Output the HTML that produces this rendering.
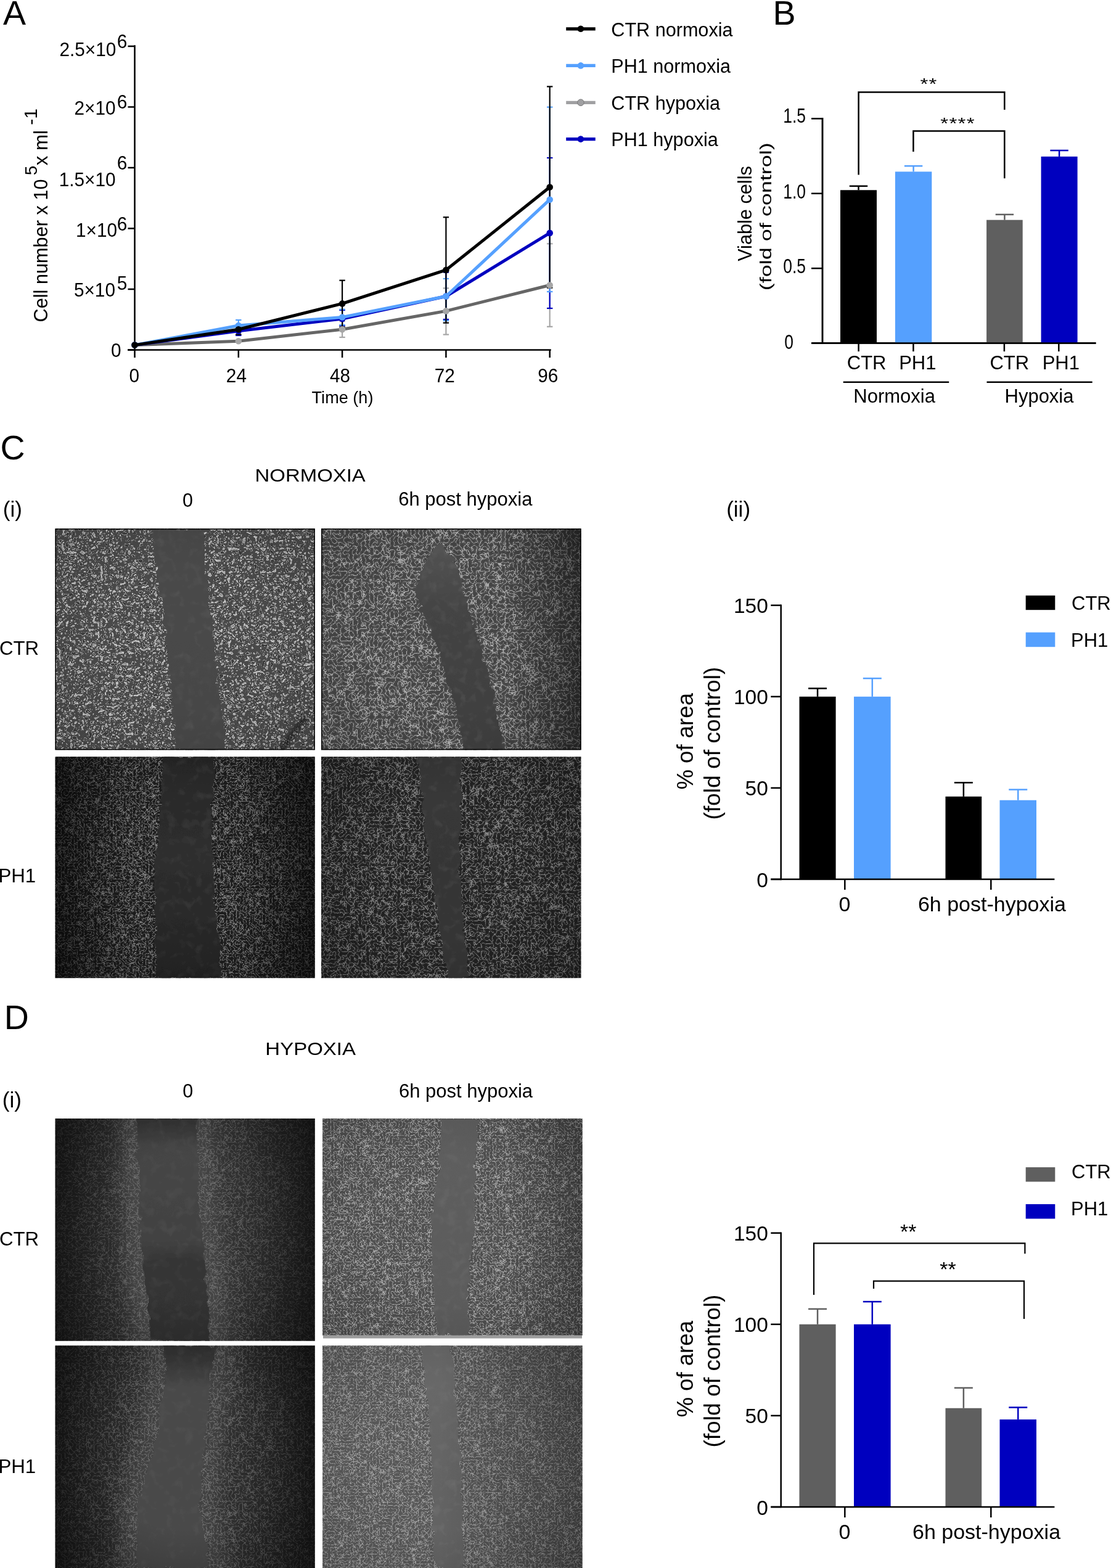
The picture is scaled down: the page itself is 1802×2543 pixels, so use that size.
<!DOCTYPE html>
<html><head><meta charset="utf-8"><title>Figure</title>
<style>
html,body{margin:0;padding:0;background:#fff;}
body{width:1802px;height:2543px;overflow:hidden;}
svg{display:block;}
svg text{font-family:'Liberation Sans', Arial, sans-serif;fill:#000;}
</style></head><body>
<svg width="1802" height="2543" viewBox="0 0 1802 2543">
<defs>
<clipPath id="clip0"><rect x="89.5" y="857.3" width="421.3" height="359.0"/></clipPath>
<filter id="tex0" x="89.5" y="857.3" width="421.3" height="359.0" filterUnits="userSpaceOnUse" color-interpolation-filters="sRGB"><feTurbulence type="fractalNoise" baseFrequency="0.16" numOctaves="2" seed="11"/><feColorMatrix type="matrix" values="1 0 0 0 0  1 0 0 0 0  1 0 0 0 0  0 0 0 0 1"/><feComponentTransfer><feFuncR type="table" tableValues="0.5704 0.5704 0.5704 0.5704 0.5704 0.5704 0.5704 0.5704 0.5704 0.5704 0.5704 0.7509 0.8025 0.8025 0.4414 0.4414 0.2867 0.2867 0.2867 0.2867 0.2867 0.2867 0.2867 0.2867 0.4156 0.7251 0.7251 0.3898 0.2351 0.2351 0.2351 0.2351 0.2351 0.2351 0.2351 0.2351 0.2351 0.2351 0.2351 0.2351 0.2351"/><feFuncG type="table" tableValues="0.5704 0.5704 0.5704 0.5704 0.5704 0.5704 0.5704 0.5704 0.5704 0.5704 0.5704 0.7509 0.8025 0.8025 0.4414 0.4414 0.2867 0.2867 0.2867 0.2867 0.2867 0.2867 0.2867 0.2867 0.4156 0.7251 0.7251 0.3898 0.2351 0.2351 0.2351 0.2351 0.2351 0.2351 0.2351 0.2351 0.2351 0.2351 0.2351 0.2351 0.2351"/><feFuncB type="table" tableValues="0.5704 0.5704 0.5704 0.5704 0.5704 0.5704 0.5704 0.5704 0.5704 0.5704 0.5704 0.7509 0.8025 0.8025 0.4414 0.4414 0.2867 0.2867 0.2867 0.2867 0.2867 0.2867 0.2867 0.2867 0.4156 0.7251 0.7251 0.3898 0.2351 0.2351 0.2351 0.2351 0.2351 0.2351 0.2351 0.2351 0.2351 0.2351 0.2351 0.2351 0.2351"/></feComponentTransfer><feGaussianBlur stdDeviation="0.5"/></filter>
<filter id="gapn0" x="89.5" y="857.3" width="421.3" height="359.0" filterUnits="userSpaceOnUse" color-interpolation-filters="sRGB"><feTurbulence type="fractalNoise" baseFrequency="0.07" numOctaves="2" seed="61" result="n"/><feColorMatrix in="n" type="matrix" values="0 0 0 0 1  0 0 0 0 1  0 0 0 0 1  0.1569 0 0 0 -0.0784" result="c"/><feComposite in="c" in2="SourceGraphic" operator="in"/></filter>
<filter id="edge0" x="59.5" y="827.3" width="481.3" height="419.0" filterUnits="userSpaceOnUse"><feTurbulence type="fractalNoise" baseFrequency="0.06" numOctaves="3" seed="91" result="t"/><feDisplacementMap in="SourceGraphic" in2="t" scale="12" xChannelSelector="R" yChannelSelector="G"/></filter>
<linearGradient id="gapg0" x1="0" y1="857.3" x2="0" y2="1216.3" gradientUnits="userSpaceOnUse"><stop offset="0" stop-color="rgb(74,74,74)"/><stop offset="1" stop-color="rgb(70,70,70)"/></linearGradient>
<radialGradient id="vig0" cx="0.5" cy="0.5" r="0.72"><stop offset="0.45" stop-color="#000" stop-opacity="0"/><stop offset="1" stop-color="#000" stop-opacity="0.12"/></radialGradient>
<linearGradient id="hv0" x1="0" y1="0" x2="1" y2="0"><stop offset="0" stop-color="#000" stop-opacity="0.0"/><stop offset="0.3" stop-color="#000" stop-opacity="0"/><stop offset="0.7" stop-color="#000" stop-opacity="0"/><stop offset="1" stop-color="#000" stop-opacity="0.0"/></linearGradient>
<clipPath id="clip1"><rect x="521" y="857.3" width="421.5" height="359.0"/></clipPath>
<filter id="tex1" x="521" y="857.3" width="421.5" height="359.0" filterUnits="userSpaceOnUse" color-interpolation-filters="sRGB"><feTurbulence type="turbulence" baseFrequency="0.15" numOctaves="1" seed="12"/><feColorMatrix type="matrix" values="1 0 0 0 0  1 0 0 0 0  1 0 0 0 0  0 0 0 0 1"/><feComponentTransfer><feFuncR type="table" tableValues="0.6856 0.6856 0.6856 0.5354 0.5354 0.5354 0.3852 0.3852 0.3852 0.3101 0.3101 0.3101 0.3101 0.3101 0.3101 0.3101 0.3101 0.3101 0.3101 0.3101 0.3101 0.3101 0.3101 0.3101 0.3101 0.3101 0.3101 0.3101 0.3101 0.3101 0.2726 0.2726 0.2726 0.2726 0.2726 0.2726 0.2726 0.2726 0.2726 0.2726 0.2726 0.2726 0.2726 0.2726 0.2726 0.2726 0.2726 0.2726 0.2726 0.2726 0.2726 0.2726 0.2726 0.2726 0.2726 0.2726 0.2726 0.2726 0.2726 0.2726 0.2726 0.2726 0.2726 0.2726 0.2726 0.2726 0.2726 0.2726 0.2726 0.2726 0.2726 0.2726 0.2726 0.2726 0.2726 0.2726 0.2726 0.2726 0.2726 0.2726 0.2726 0.2726 0.2726 0.2726 0.2726 0.2726 0.2726 0.2726 0.2726 0.2726 0.2726 0.2726 0.2726 0.2726 0.2726 0.2726 0.2726 0.2726 0.2726 0.2726 0.2726"/><feFuncG type="table" tableValues="0.6856 0.6856 0.6856 0.5354 0.5354 0.5354 0.3852 0.3852 0.3852 0.3101 0.3101 0.3101 0.3101 0.3101 0.3101 0.3101 0.3101 0.3101 0.3101 0.3101 0.3101 0.3101 0.3101 0.3101 0.3101 0.3101 0.3101 0.3101 0.3101 0.3101 0.2726 0.2726 0.2726 0.2726 0.2726 0.2726 0.2726 0.2726 0.2726 0.2726 0.2726 0.2726 0.2726 0.2726 0.2726 0.2726 0.2726 0.2726 0.2726 0.2726 0.2726 0.2726 0.2726 0.2726 0.2726 0.2726 0.2726 0.2726 0.2726 0.2726 0.2726 0.2726 0.2726 0.2726 0.2726 0.2726 0.2726 0.2726 0.2726 0.2726 0.2726 0.2726 0.2726 0.2726 0.2726 0.2726 0.2726 0.2726 0.2726 0.2726 0.2726 0.2726 0.2726 0.2726 0.2726 0.2726 0.2726 0.2726 0.2726 0.2726 0.2726 0.2726 0.2726 0.2726 0.2726 0.2726 0.2726 0.2726 0.2726 0.2726 0.2726"/><feFuncB type="table" tableValues="0.6856 0.6856 0.6856 0.5354 0.5354 0.5354 0.3852 0.3852 0.3852 0.3101 0.3101 0.3101 0.3101 0.3101 0.3101 0.3101 0.3101 0.3101 0.3101 0.3101 0.3101 0.3101 0.3101 0.3101 0.3101 0.3101 0.3101 0.3101 0.3101 0.3101 0.2726 0.2726 0.2726 0.2726 0.2726 0.2726 0.2726 0.2726 0.2726 0.2726 0.2726 0.2726 0.2726 0.2726 0.2726 0.2726 0.2726 0.2726 0.2726 0.2726 0.2726 0.2726 0.2726 0.2726 0.2726 0.2726 0.2726 0.2726 0.2726 0.2726 0.2726 0.2726 0.2726 0.2726 0.2726 0.2726 0.2726 0.2726 0.2726 0.2726 0.2726 0.2726 0.2726 0.2726 0.2726 0.2726 0.2726 0.2726 0.2726 0.2726 0.2726 0.2726 0.2726 0.2726 0.2726 0.2726 0.2726 0.2726 0.2726 0.2726 0.2726 0.2726 0.2726 0.2726 0.2726 0.2726 0.2726 0.2726 0.2726 0.2726 0.2726"/></feComponentTransfer><feGaussianBlur stdDeviation="0.5"/></filter>
<filter id="gapn1" x="521" y="857.3" width="421.5" height="359.0" filterUnits="userSpaceOnUse" color-interpolation-filters="sRGB"><feTurbulence type="fractalNoise" baseFrequency="0.07" numOctaves="2" seed="62" result="n"/><feColorMatrix in="n" type="matrix" values="0 0 0 0 1  0 0 0 0 1  0 0 0 0 1  0.1882 0 0 0 -0.0941" result="c"/><feComposite in="c" in2="SourceGraphic" operator="in"/></filter>
<filter id="edge1" x="491" y="827.3" width="481.5" height="419.0" filterUnits="userSpaceOnUse"><feTurbulence type="fractalNoise" baseFrequency="0.06" numOctaves="3" seed="92" result="t"/><feDisplacementMap in="SourceGraphic" in2="t" scale="12" xChannelSelector="R" yChannelSelector="G"/></filter>
<linearGradient id="gapg1" x1="0" y1="857.3" x2="0" y2="1216.3" gradientUnits="userSpaceOnUse"><stop offset="0" stop-color="rgb(90,90,90)"/><stop offset="0.15" stop-color="rgb(80,80,80)"/><stop offset="0.35" stop-color="rgb(68,68,68)"/><stop offset="1" stop-color="rgb(63,63,63)"/></linearGradient>
<radialGradient id="vig1" cx="0.5" cy="0.5" r="0.72"><stop offset="0.45" stop-color="#000" stop-opacity="0"/><stop offset="1" stop-color="#000" stop-opacity="0.15"/></radialGradient>
<linearGradient id="hv1" x1="0" y1="0" x2="1" y2="0"><stop offset="0" stop-color="#000" stop-opacity="0.0"/><stop offset="0.3" stop-color="#000" stop-opacity="0"/><stop offset="0.7" stop-color="#000" stop-opacity="0"/><stop offset="1" stop-color="#000" stop-opacity="0.45"/></linearGradient>
<clipPath id="clip2"><rect x="89.5" y="1227.2" width="421.3" height="359.0"/></clipPath>
<filter id="tex2" x="89.5" y="1227.2" width="421.3" height="359.0" filterUnits="userSpaceOnUse" color-interpolation-filters="sRGB"><feTurbulence type="turbulence" baseFrequency="0.19" numOctaves="1" seed="13"/><feColorMatrix type="matrix" values="1 0 0 0 0  1 0 0 0 0  1 0 0 0 0  0 0 0 0 1"/><feComponentTransfer><feFuncR type="table" tableValues="0.5195 0.5195 0.5195 0.3716 0.3716 0.3716 0.2238 0.2238 0.2238 0.1498 0.1498 0.1498 0.1498 0.1498 0.1498 0.1498 0.1498 0.1498 0.1498 0.1498 0.1498 0.1498 0.1498 0.1498 0.1498 0.1498 0.1498 0.1498 0.1498 0.1498 0.1128 0.1128 0.1128 0.1128 0.1128 0.1128 0.1128 0.1128 0.1128 0.1128 0.1128 0.1128 0.1128 0.1128 0.1128 0.1128 0.1128 0.1128 0.1128 0.1128 0.1128 0.1128 0.1128 0.1128 0.1128 0.1128 0.1128 0.1128 0.1128 0.1128 0.1128 0.1128 0.1128 0.1128 0.1128 0.1128 0.1128 0.1128 0.1128 0.1128 0.1128 0.1128 0.1128 0.1128 0.1128 0.1128 0.1128 0.1128 0.1128 0.1128 0.1128 0.1128 0.1128 0.1128 0.1128 0.1128 0.1128 0.1128 0.1128 0.1128 0.1128 0.1128 0.1128 0.1128 0.1128 0.1128 0.1128 0.1128 0.1128 0.1128 0.1128"/><feFuncG type="table" tableValues="0.5195 0.5195 0.5195 0.3716 0.3716 0.3716 0.2238 0.2238 0.2238 0.1498 0.1498 0.1498 0.1498 0.1498 0.1498 0.1498 0.1498 0.1498 0.1498 0.1498 0.1498 0.1498 0.1498 0.1498 0.1498 0.1498 0.1498 0.1498 0.1498 0.1498 0.1128 0.1128 0.1128 0.1128 0.1128 0.1128 0.1128 0.1128 0.1128 0.1128 0.1128 0.1128 0.1128 0.1128 0.1128 0.1128 0.1128 0.1128 0.1128 0.1128 0.1128 0.1128 0.1128 0.1128 0.1128 0.1128 0.1128 0.1128 0.1128 0.1128 0.1128 0.1128 0.1128 0.1128 0.1128 0.1128 0.1128 0.1128 0.1128 0.1128 0.1128 0.1128 0.1128 0.1128 0.1128 0.1128 0.1128 0.1128 0.1128 0.1128 0.1128 0.1128 0.1128 0.1128 0.1128 0.1128 0.1128 0.1128 0.1128 0.1128 0.1128 0.1128 0.1128 0.1128 0.1128 0.1128 0.1128 0.1128 0.1128 0.1128 0.1128"/><feFuncB type="table" tableValues="0.5195 0.5195 0.5195 0.3716 0.3716 0.3716 0.2238 0.2238 0.2238 0.1498 0.1498 0.1498 0.1498 0.1498 0.1498 0.1498 0.1498 0.1498 0.1498 0.1498 0.1498 0.1498 0.1498 0.1498 0.1498 0.1498 0.1498 0.1498 0.1498 0.1498 0.1128 0.1128 0.1128 0.1128 0.1128 0.1128 0.1128 0.1128 0.1128 0.1128 0.1128 0.1128 0.1128 0.1128 0.1128 0.1128 0.1128 0.1128 0.1128 0.1128 0.1128 0.1128 0.1128 0.1128 0.1128 0.1128 0.1128 0.1128 0.1128 0.1128 0.1128 0.1128 0.1128 0.1128 0.1128 0.1128 0.1128 0.1128 0.1128 0.1128 0.1128 0.1128 0.1128 0.1128 0.1128 0.1128 0.1128 0.1128 0.1128 0.1128 0.1128 0.1128 0.1128 0.1128 0.1128 0.1128 0.1128 0.1128 0.1128 0.1128 0.1128 0.1128 0.1128 0.1128 0.1128 0.1128 0.1128 0.1128 0.1128 0.1128 0.1128"/></feComponentTransfer><feGaussianBlur stdDeviation="0.4"/></filter>
<filter id="gapn2" x="89.5" y="1227.2" width="421.3" height="359.0" filterUnits="userSpaceOnUse" color-interpolation-filters="sRGB"><feTurbulence type="fractalNoise" baseFrequency="0.07" numOctaves="2" seed="63" result="n"/><feColorMatrix in="n" type="matrix" values="0 0 0 0 1  0 0 0 0 1  0 0 0 0 1  0.1569 0 0 0 -0.0784" result="c"/><feComposite in="c" in2="SourceGraphic" operator="in"/></filter>
<filter id="edge2" x="59.5" y="1197.2" width="481.3" height="419.0" filterUnits="userSpaceOnUse"><feTurbulence type="fractalNoise" baseFrequency="0.06" numOctaves="3" seed="93" result="t"/><feDisplacementMap in="SourceGraphic" in2="t" scale="12" xChannelSelector="R" yChannelSelector="G"/></filter>
<linearGradient id="gapg2" x1="0" y1="1227.2" x2="0" y2="1586.2" gradientUnits="userSpaceOnUse"><stop offset="0" stop-color="rgb(40,40,40)"/><stop offset="0.45" stop-color="rgb(46,46,46)"/><stop offset="1" stop-color="rgb(36,36,36)"/></linearGradient>
<radialGradient id="vig2" cx="0.5" cy="0.5" r="0.72"><stop offset="0.45" stop-color="#000" stop-opacity="0"/><stop offset="1" stop-color="#000" stop-opacity="0.25"/></radialGradient>
<linearGradient id="hv2" x1="0" y1="0" x2="1" y2="0"><stop offset="0" stop-color="#000" stop-opacity="0.55"/><stop offset="0.3" stop-color="#000" stop-opacity="0"/><stop offset="0.7" stop-color="#000" stop-opacity="0"/><stop offset="1" stop-color="#000" stop-opacity="0.55"/></linearGradient>
<clipPath id="clip3"><rect x="521" y="1227.2" width="421.5" height="359.0"/></clipPath>
<filter id="tex3" x="521" y="1227.2" width="421.5" height="359.0" filterUnits="userSpaceOnUse" color-interpolation-filters="sRGB"><feTurbulence type="turbulence" baseFrequency="0.16" numOctaves="1" seed="14"/><feColorMatrix type="matrix" values="1 0 0 0 0  1 0 0 0 0  1 0 0 0 0  0 0 0 0 1"/><feComponentTransfer><feFuncR type="table" tableValues="0.5233 0.5233 0.5233 0.3828 0.3828 0.3828 0.2423 0.2423 0.2423 0.1721 0.1721 0.1721 0.1721 0.1721 0.1721 0.1721 0.1721 0.1721 0.1721 0.1721 0.1721 0.1721 0.1721 0.1721 0.1721 0.1721 0.1721 0.1721 0.1721 0.1721 0.1369 0.1369 0.1369 0.1369 0.1369 0.1369 0.1369 0.1369 0.1369 0.1369 0.1369 0.1369 0.1369 0.1369 0.1369 0.1369 0.1369 0.1369 0.1369 0.1369 0.1369 0.1369 0.1369 0.1369 0.1369 0.1369 0.1369 0.1369 0.1369 0.1369 0.1369 0.1369 0.1369 0.1369 0.1369 0.1369 0.1369 0.1369 0.1369 0.1369 0.1369 0.1369 0.1369 0.1369 0.1369 0.1369 0.1369 0.1369 0.1369 0.1369 0.1369 0.1369 0.1369 0.1369 0.1369 0.1369 0.1369 0.1369 0.1369 0.1369 0.1369 0.1369 0.1369 0.1369 0.1369 0.1369 0.1369 0.1369 0.1369 0.1369 0.1369"/><feFuncG type="table" tableValues="0.5233 0.5233 0.5233 0.3828 0.3828 0.3828 0.2423 0.2423 0.2423 0.1721 0.1721 0.1721 0.1721 0.1721 0.1721 0.1721 0.1721 0.1721 0.1721 0.1721 0.1721 0.1721 0.1721 0.1721 0.1721 0.1721 0.1721 0.1721 0.1721 0.1721 0.1369 0.1369 0.1369 0.1369 0.1369 0.1369 0.1369 0.1369 0.1369 0.1369 0.1369 0.1369 0.1369 0.1369 0.1369 0.1369 0.1369 0.1369 0.1369 0.1369 0.1369 0.1369 0.1369 0.1369 0.1369 0.1369 0.1369 0.1369 0.1369 0.1369 0.1369 0.1369 0.1369 0.1369 0.1369 0.1369 0.1369 0.1369 0.1369 0.1369 0.1369 0.1369 0.1369 0.1369 0.1369 0.1369 0.1369 0.1369 0.1369 0.1369 0.1369 0.1369 0.1369 0.1369 0.1369 0.1369 0.1369 0.1369 0.1369 0.1369 0.1369 0.1369 0.1369 0.1369 0.1369 0.1369 0.1369 0.1369 0.1369 0.1369 0.1369"/><feFuncB type="table" tableValues="0.5233 0.5233 0.5233 0.3828 0.3828 0.3828 0.2423 0.2423 0.2423 0.1721 0.1721 0.1721 0.1721 0.1721 0.1721 0.1721 0.1721 0.1721 0.1721 0.1721 0.1721 0.1721 0.1721 0.1721 0.1721 0.1721 0.1721 0.1721 0.1721 0.1721 0.1369 0.1369 0.1369 0.1369 0.1369 0.1369 0.1369 0.1369 0.1369 0.1369 0.1369 0.1369 0.1369 0.1369 0.1369 0.1369 0.1369 0.1369 0.1369 0.1369 0.1369 0.1369 0.1369 0.1369 0.1369 0.1369 0.1369 0.1369 0.1369 0.1369 0.1369 0.1369 0.1369 0.1369 0.1369 0.1369 0.1369 0.1369 0.1369 0.1369 0.1369 0.1369 0.1369 0.1369 0.1369 0.1369 0.1369 0.1369 0.1369 0.1369 0.1369 0.1369 0.1369 0.1369 0.1369 0.1369 0.1369 0.1369 0.1369 0.1369 0.1369 0.1369 0.1369 0.1369 0.1369 0.1369 0.1369 0.1369 0.1369 0.1369 0.1369"/></feComponentTransfer><feGaussianBlur stdDeviation="0.4"/></filter>
<filter id="gapn3" x="521" y="1227.2" width="421.5" height="359.0" filterUnits="userSpaceOnUse" color-interpolation-filters="sRGB"><feTurbulence type="fractalNoise" baseFrequency="0.07" numOctaves="2" seed="64" result="n"/><feColorMatrix in="n" type="matrix" values="0 0 0 0 1  0 0 0 0 1  0 0 0 0 1  0.1882 0 0 0 -0.0941" result="c"/><feComposite in="c" in2="SourceGraphic" operator="in"/></filter>
<filter id="edge3" x="491" y="1197.2" width="481.5" height="419.0" filterUnits="userSpaceOnUse"><feTurbulence type="fractalNoise" baseFrequency="0.06" numOctaves="3" seed="94" result="t"/><feDisplacementMap in="SourceGraphic" in2="t" scale="12" xChannelSelector="R" yChannelSelector="G"/></filter>
<linearGradient id="gapg3" x1="0" y1="1227.2" x2="0" y2="1586.2" gradientUnits="userSpaceOnUse"><stop offset="0" stop-color="rgb(56,56,56)"/><stop offset="1" stop-color="rgb(52,52,52)"/></linearGradient>
<radialGradient id="vig3" cx="0.5" cy="0.5" r="0.72"><stop offset="0.45" stop-color="#000" stop-opacity="0"/><stop offset="1" stop-color="#000" stop-opacity="0.2"/></radialGradient>
<linearGradient id="hv3" x1="0" y1="0" x2="1" y2="0"><stop offset="0" stop-color="#000" stop-opacity="0.1"/><stop offset="0.3" stop-color="#000" stop-opacity="0"/><stop offset="0.7" stop-color="#000" stop-opacity="0"/><stop offset="1" stop-color="#000" stop-opacity="0.1"/></linearGradient>
<clipPath id="clip4"><rect x="89.5" y="1814.1" width="421.3" height="360.6"/></clipPath>
<filter id="tex4" x="89.5" y="1814.1" width="421.3" height="360.6" filterUnits="userSpaceOnUse" color-interpolation-filters="sRGB"><feTurbulence type="turbulence" baseFrequency="0.17" numOctaves="1" seed="15"/><feColorMatrix type="matrix" values="1 0 0 0 0  1 0 0 0 0  1 0 0 0 0  0 0 0 0 1"/><feComponentTransfer><feFuncR type="table" tableValues="0.3752 0.3752 0.3752 0.3090 0.3090 0.3090 0.2428 0.2428 0.2428 0.2096 0.2096 0.2096 0.2096 0.2096 0.2096 0.2096 0.2096 0.2096 0.2096 0.2096 0.2096 0.2096 0.2096 0.2096 0.2096 0.2096 0.2096 0.2096 0.2096 0.2096 0.1931 0.1931 0.1931 0.1931 0.1931 0.1931 0.1931 0.1931 0.1931 0.1931 0.1931 0.1931 0.1931 0.1931 0.1931 0.1931 0.1931 0.1931 0.1931 0.1931 0.1931 0.1931 0.1931 0.1931 0.1931 0.1931 0.1931 0.1931 0.1931 0.1931 0.1931 0.1931 0.1931 0.1931 0.1931 0.1931 0.1931 0.1931 0.1931 0.1931 0.1931 0.1931 0.1931 0.1931 0.1931 0.1931 0.1931 0.1931 0.1931 0.1931 0.1931 0.1931 0.1931 0.1931 0.1931 0.1931 0.1931 0.1931 0.1931 0.1931 0.1931 0.1931 0.1931 0.1931 0.1931 0.1931 0.1931 0.1931 0.1931 0.1931 0.1931"/><feFuncG type="table" tableValues="0.3752 0.3752 0.3752 0.3090 0.3090 0.3090 0.2428 0.2428 0.2428 0.2096 0.2096 0.2096 0.2096 0.2096 0.2096 0.2096 0.2096 0.2096 0.2096 0.2096 0.2096 0.2096 0.2096 0.2096 0.2096 0.2096 0.2096 0.2096 0.2096 0.2096 0.1931 0.1931 0.1931 0.1931 0.1931 0.1931 0.1931 0.1931 0.1931 0.1931 0.1931 0.1931 0.1931 0.1931 0.1931 0.1931 0.1931 0.1931 0.1931 0.1931 0.1931 0.1931 0.1931 0.1931 0.1931 0.1931 0.1931 0.1931 0.1931 0.1931 0.1931 0.1931 0.1931 0.1931 0.1931 0.1931 0.1931 0.1931 0.1931 0.1931 0.1931 0.1931 0.1931 0.1931 0.1931 0.1931 0.1931 0.1931 0.1931 0.1931 0.1931 0.1931 0.1931 0.1931 0.1931 0.1931 0.1931 0.1931 0.1931 0.1931 0.1931 0.1931 0.1931 0.1931 0.1931 0.1931 0.1931 0.1931 0.1931 0.1931 0.1931"/><feFuncB type="table" tableValues="0.3752 0.3752 0.3752 0.3090 0.3090 0.3090 0.2428 0.2428 0.2428 0.2096 0.2096 0.2096 0.2096 0.2096 0.2096 0.2096 0.2096 0.2096 0.2096 0.2096 0.2096 0.2096 0.2096 0.2096 0.2096 0.2096 0.2096 0.2096 0.2096 0.2096 0.1931 0.1931 0.1931 0.1931 0.1931 0.1931 0.1931 0.1931 0.1931 0.1931 0.1931 0.1931 0.1931 0.1931 0.1931 0.1931 0.1931 0.1931 0.1931 0.1931 0.1931 0.1931 0.1931 0.1931 0.1931 0.1931 0.1931 0.1931 0.1931 0.1931 0.1931 0.1931 0.1931 0.1931 0.1931 0.1931 0.1931 0.1931 0.1931 0.1931 0.1931 0.1931 0.1931 0.1931 0.1931 0.1931 0.1931 0.1931 0.1931 0.1931 0.1931 0.1931 0.1931 0.1931 0.1931 0.1931 0.1931 0.1931 0.1931 0.1931 0.1931 0.1931 0.1931 0.1931 0.1931 0.1931 0.1931 0.1931 0.1931 0.1931 0.1931"/></feComponentTransfer><feGaussianBlur stdDeviation="0.4"/></filter>
<filter id="gapn4" x="89.5" y="1814.1" width="421.3" height="360.6" filterUnits="userSpaceOnUse" color-interpolation-filters="sRGB"><feTurbulence type="fractalNoise" baseFrequency="0.07" numOctaves="2" seed="65" result="n"/><feColorMatrix in="n" type="matrix" values="0 0 0 0 1  0 0 0 0 1  0 0 0 0 1  0.1255 0 0 0 -0.0627" result="c"/><feComposite in="c" in2="SourceGraphic" operator="in"/></filter>
<filter id="edge4" x="59.5" y="1784.1" width="481.3" height="420.6" filterUnits="userSpaceOnUse"><feTurbulence type="fractalNoise" baseFrequency="0.06" numOctaves="3" seed="95" result="t"/><feDisplacementMap in="SourceGraphic" in2="t" scale="12" xChannelSelector="R" yChannelSelector="G"/></filter>
<linearGradient id="gapg4" x1="0" y1="1814.1" x2="0" y2="2174.7" gradientUnits="userSpaceOnUse"><stop offset="0" stop-color="rgb(54,54,54)"/><stop offset="0.12" stop-color="rgb(70,70,70)"/><stop offset="0.55" stop-color="rgb(66,66,66)"/><stop offset="0.64" stop-color="rgb(53,53,53)"/><stop offset="1" stop-color="rgb(50,50,50)"/></linearGradient>
<radialGradient id="vig4" cx="0.5" cy="0.5" r="0.72"><stop offset="0.45" stop-color="#000" stop-opacity="0"/><stop offset="1" stop-color="#000" stop-opacity="0.3"/></radialGradient>
<linearGradient id="hv4" x1="0" y1="0" x2="1" y2="0"><stop offset="0" stop-color="#000" stop-opacity="0.55"/><stop offset="0.3" stop-color="#000" stop-opacity="0"/><stop offset="0.7" stop-color="#000" stop-opacity="0"/><stop offset="1" stop-color="#000" stop-opacity="0.55"/></linearGradient>
<clipPath id="clip5"><rect x="523.1" y="1814.1" width="421.6" height="351.7"/></clipPath>
<filter id="tex5" x="523.1" y="1814.1" width="421.6" height="351.7" filterUnits="userSpaceOnUse" color-interpolation-filters="sRGB"><feTurbulence type="turbulence" baseFrequency="0.19" numOctaves="1" seed="16"/><feColorMatrix type="matrix" values="1 0 0 0 0  1 0 0 0 0  1 0 0 0 0  0 0 0 0 1"/><feComponentTransfer><feFuncR type="table" tableValues="0.6793 0.6793 0.6793 0.5453 0.5453 0.5453 0.4112 0.4112 0.4112 0.3442 0.3442 0.3442 0.3442 0.3442 0.3442 0.3442 0.3442 0.3442 0.3442 0.3442 0.3442 0.3442 0.3442 0.3442 0.3442 0.3442 0.3442 0.3442 0.3442 0.3442 0.3107 0.3107 0.3107 0.3107 0.3107 0.3107 0.3107 0.3107 0.3107 0.3107 0.3107 0.3107 0.3107 0.3107 0.3107 0.3107 0.3107 0.3107 0.3107 0.3107 0.3107 0.3107 0.3107 0.3107 0.3107 0.3107 0.3107 0.3107 0.3107 0.3107 0.3107 0.3107 0.3107 0.3107 0.3107 0.3107 0.3107 0.3107 0.3107 0.3107 0.3107 0.3107 0.3107 0.3107 0.3107 0.3107 0.3107 0.3107 0.3107 0.3107 0.3107 0.3107 0.3107 0.3107 0.3107 0.3107 0.3107 0.3107 0.3107 0.3107 0.3107 0.3107 0.3107 0.3107 0.3107 0.3107 0.3107 0.3107 0.3107 0.3107 0.3107"/><feFuncG type="table" tableValues="0.6793 0.6793 0.6793 0.5453 0.5453 0.5453 0.4112 0.4112 0.4112 0.3442 0.3442 0.3442 0.3442 0.3442 0.3442 0.3442 0.3442 0.3442 0.3442 0.3442 0.3442 0.3442 0.3442 0.3442 0.3442 0.3442 0.3442 0.3442 0.3442 0.3442 0.3107 0.3107 0.3107 0.3107 0.3107 0.3107 0.3107 0.3107 0.3107 0.3107 0.3107 0.3107 0.3107 0.3107 0.3107 0.3107 0.3107 0.3107 0.3107 0.3107 0.3107 0.3107 0.3107 0.3107 0.3107 0.3107 0.3107 0.3107 0.3107 0.3107 0.3107 0.3107 0.3107 0.3107 0.3107 0.3107 0.3107 0.3107 0.3107 0.3107 0.3107 0.3107 0.3107 0.3107 0.3107 0.3107 0.3107 0.3107 0.3107 0.3107 0.3107 0.3107 0.3107 0.3107 0.3107 0.3107 0.3107 0.3107 0.3107 0.3107 0.3107 0.3107 0.3107 0.3107 0.3107 0.3107 0.3107 0.3107 0.3107 0.3107 0.3107"/><feFuncB type="table" tableValues="0.6793 0.6793 0.6793 0.5453 0.5453 0.5453 0.4112 0.4112 0.4112 0.3442 0.3442 0.3442 0.3442 0.3442 0.3442 0.3442 0.3442 0.3442 0.3442 0.3442 0.3442 0.3442 0.3442 0.3442 0.3442 0.3442 0.3442 0.3442 0.3442 0.3442 0.3107 0.3107 0.3107 0.3107 0.3107 0.3107 0.3107 0.3107 0.3107 0.3107 0.3107 0.3107 0.3107 0.3107 0.3107 0.3107 0.3107 0.3107 0.3107 0.3107 0.3107 0.3107 0.3107 0.3107 0.3107 0.3107 0.3107 0.3107 0.3107 0.3107 0.3107 0.3107 0.3107 0.3107 0.3107 0.3107 0.3107 0.3107 0.3107 0.3107 0.3107 0.3107 0.3107 0.3107 0.3107 0.3107 0.3107 0.3107 0.3107 0.3107 0.3107 0.3107 0.3107 0.3107 0.3107 0.3107 0.3107 0.3107 0.3107 0.3107 0.3107 0.3107 0.3107 0.3107 0.3107 0.3107 0.3107 0.3107 0.3107 0.3107 0.3107"/></feComponentTransfer><feGaussianBlur stdDeviation="0.4"/></filter>
<filter id="gapn5" x="523.1" y="1814.1" width="421.6" height="351.7" filterUnits="userSpaceOnUse" color-interpolation-filters="sRGB"><feTurbulence type="fractalNoise" baseFrequency="0.07" numOctaves="2" seed="66" result="n"/><feColorMatrix in="n" type="matrix" values="0 0 0 0 1  0 0 0 0 1  0 0 0 0 1  0.1569 0 0 0 -0.0784" result="c"/><feComposite in="c" in2="SourceGraphic" operator="in"/></filter>
<filter id="edge5" x="493.1" y="1784.1" width="481.6" height="411.7" filterUnits="userSpaceOnUse"><feTurbulence type="fractalNoise" baseFrequency="0.06" numOctaves="3" seed="96" result="t"/><feDisplacementMap in="SourceGraphic" in2="t" scale="12" xChannelSelector="R" yChannelSelector="G"/></filter>
<linearGradient id="gapg5" x1="0" y1="1814.1" x2="0" y2="2165.8" gradientUnits="userSpaceOnUse"><stop offset="0" stop-color="rgb(94,94,94)"/><stop offset="1" stop-color="rgb(92,92,92)"/></linearGradient>
<radialGradient id="vig5" cx="0.5" cy="0.5" r="0.72"><stop offset="0.45" stop-color="#000" stop-opacity="0"/><stop offset="1" stop-color="#000" stop-opacity="0.15"/></radialGradient>
<linearGradient id="hv5" x1="0" y1="0" x2="1" y2="0"><stop offset="0" stop-color="#000" stop-opacity="0.0"/><stop offset="0.3" stop-color="#000" stop-opacity="0"/><stop offset="0.7" stop-color="#000" stop-opacity="0"/><stop offset="1" stop-color="#000" stop-opacity="0.25"/></linearGradient>
<clipPath id="clip6"><rect x="89.5" y="2182.2" width="421.3" height="360.8"/></clipPath>
<filter id="tex6" x="89.5" y="2182.2" width="421.3" height="360.8" filterUnits="userSpaceOnUse" color-interpolation-filters="sRGB"><feTurbulence type="turbulence" baseFrequency="0.17" numOctaves="1" seed="17"/><feColorMatrix type="matrix" values="1 0 0 0 0  1 0 0 0 0  1 0 0 0 0  0 0 0 0 1"/><feComponentTransfer><feFuncR type="table" tableValues="0.3837 0.3837 0.3837 0.3093 0.3093 0.3093 0.2350 0.2350 0.2350 0.1979 0.1979 0.1979 0.1979 0.1979 0.1979 0.1979 0.1979 0.1979 0.1979 0.1979 0.1979 0.1979 0.1979 0.1979 0.1979 0.1979 0.1979 0.1979 0.1979 0.1979 0.1793 0.1793 0.1793 0.1793 0.1793 0.1793 0.1793 0.1793 0.1793 0.1793 0.1793 0.1793 0.1793 0.1793 0.1793 0.1793 0.1793 0.1793 0.1793 0.1793 0.1793 0.1793 0.1793 0.1793 0.1793 0.1793 0.1793 0.1793 0.1793 0.1793 0.1793 0.1793 0.1793 0.1793 0.1793 0.1793 0.1793 0.1793 0.1793 0.1793 0.1793 0.1793 0.1793 0.1793 0.1793 0.1793 0.1793 0.1793 0.1793 0.1793 0.1793 0.1793 0.1793 0.1793 0.1793 0.1793 0.1793 0.1793 0.1793 0.1793 0.1793 0.1793 0.1793 0.1793 0.1793 0.1793 0.1793 0.1793 0.1793 0.1793 0.1793"/><feFuncG type="table" tableValues="0.3837 0.3837 0.3837 0.3093 0.3093 0.3093 0.2350 0.2350 0.2350 0.1979 0.1979 0.1979 0.1979 0.1979 0.1979 0.1979 0.1979 0.1979 0.1979 0.1979 0.1979 0.1979 0.1979 0.1979 0.1979 0.1979 0.1979 0.1979 0.1979 0.1979 0.1793 0.1793 0.1793 0.1793 0.1793 0.1793 0.1793 0.1793 0.1793 0.1793 0.1793 0.1793 0.1793 0.1793 0.1793 0.1793 0.1793 0.1793 0.1793 0.1793 0.1793 0.1793 0.1793 0.1793 0.1793 0.1793 0.1793 0.1793 0.1793 0.1793 0.1793 0.1793 0.1793 0.1793 0.1793 0.1793 0.1793 0.1793 0.1793 0.1793 0.1793 0.1793 0.1793 0.1793 0.1793 0.1793 0.1793 0.1793 0.1793 0.1793 0.1793 0.1793 0.1793 0.1793 0.1793 0.1793 0.1793 0.1793 0.1793 0.1793 0.1793 0.1793 0.1793 0.1793 0.1793 0.1793 0.1793 0.1793 0.1793 0.1793 0.1793"/><feFuncB type="table" tableValues="0.3837 0.3837 0.3837 0.3093 0.3093 0.3093 0.2350 0.2350 0.2350 0.1979 0.1979 0.1979 0.1979 0.1979 0.1979 0.1979 0.1979 0.1979 0.1979 0.1979 0.1979 0.1979 0.1979 0.1979 0.1979 0.1979 0.1979 0.1979 0.1979 0.1979 0.1793 0.1793 0.1793 0.1793 0.1793 0.1793 0.1793 0.1793 0.1793 0.1793 0.1793 0.1793 0.1793 0.1793 0.1793 0.1793 0.1793 0.1793 0.1793 0.1793 0.1793 0.1793 0.1793 0.1793 0.1793 0.1793 0.1793 0.1793 0.1793 0.1793 0.1793 0.1793 0.1793 0.1793 0.1793 0.1793 0.1793 0.1793 0.1793 0.1793 0.1793 0.1793 0.1793 0.1793 0.1793 0.1793 0.1793 0.1793 0.1793 0.1793 0.1793 0.1793 0.1793 0.1793 0.1793 0.1793 0.1793 0.1793 0.1793 0.1793 0.1793 0.1793 0.1793 0.1793 0.1793 0.1793 0.1793 0.1793 0.1793 0.1793 0.1793"/></feComponentTransfer><feGaussianBlur stdDeviation="0.4"/></filter>
<filter id="gapn6" x="89.5" y="2182.2" width="421.3" height="360.8" filterUnits="userSpaceOnUse" color-interpolation-filters="sRGB"><feTurbulence type="fractalNoise" baseFrequency="0.07" numOctaves="2" seed="67" result="n"/><feColorMatrix in="n" type="matrix" values="0 0 0 0 1  0 0 0 0 1  0 0 0 0 1  0.1255 0 0 0 -0.0627" result="c"/><feComposite in="c" in2="SourceGraphic" operator="in"/></filter>
<filter id="edge6" x="59.5" y="2152.2" width="481.3" height="420.8" filterUnits="userSpaceOnUse"><feTurbulence type="fractalNoise" baseFrequency="0.06" numOctaves="3" seed="97" result="t"/><feDisplacementMap in="SourceGraphic" in2="t" scale="12" xChannelSelector="R" yChannelSelector="G"/></filter>
<linearGradient id="gapg6" x1="0" y1="2182.2" x2="0" y2="2543" gradientUnits="userSpaceOnUse"><stop offset="0" stop-color="rgb(50,50,50)"/><stop offset="0.08" stop-color="rgb(58,58,58)"/><stop offset="0.2" stop-color="rgb(74,74,74)"/><stop offset="1" stop-color="rgb(72,72,72)"/></linearGradient>
<radialGradient id="vig6" cx="0.5" cy="0.5" r="0.72"><stop offset="0.45" stop-color="#000" stop-opacity="0"/><stop offset="1" stop-color="#000" stop-opacity="0.3"/></radialGradient>
<linearGradient id="hv6" x1="0" y1="0" x2="1" y2="0"><stop offset="0" stop-color="#000" stop-opacity="0.55"/><stop offset="0.3" stop-color="#000" stop-opacity="0"/><stop offset="0.7" stop-color="#000" stop-opacity="0"/><stop offset="1" stop-color="#000" stop-opacity="0.55"/></linearGradient>
<clipPath id="clip7"><rect x="523.1" y="2182.2" width="421.6" height="360.8"/></clipPath>
<filter id="tex7" x="523.1" y="2182.2" width="421.6" height="360.8" filterUnits="userSpaceOnUse" color-interpolation-filters="sRGB"><feTurbulence type="turbulence" baseFrequency="0.19" numOctaves="1" seed="18"/><feColorMatrix type="matrix" values="1 0 0 0 0  1 0 0 0 0  1 0 0 0 0  0 0 0 0 1"/><feComponentTransfer><feFuncR type="table" tableValues="0.6401 0.6401 0.6401 0.5325 0.5325 0.5325 0.4248 0.4248 0.4248 0.3709 0.3709 0.3709 0.3709 0.3709 0.3709 0.3709 0.3709 0.3709 0.3709 0.3709 0.3709 0.3709 0.3709 0.3709 0.3709 0.3709 0.3709 0.3709 0.3709 0.3709 0.3440 0.3440 0.3440 0.3440 0.3440 0.3440 0.3440 0.3440 0.3440 0.3440 0.3440 0.3440 0.3440 0.3440 0.3440 0.3440 0.3440 0.3440 0.3440 0.3440 0.3440 0.3440 0.3440 0.3440 0.3440 0.3440 0.3440 0.3440 0.3440 0.3440 0.3440 0.3440 0.3440 0.3440 0.3440 0.3440 0.3440 0.3440 0.3440 0.3440 0.3440 0.3440 0.3440 0.3440 0.3440 0.3440 0.3440 0.3440 0.3440 0.3440 0.3440 0.3440 0.3440 0.3440 0.3440 0.3440 0.3440 0.3440 0.3440 0.3440 0.3440 0.3440 0.3440 0.3440 0.3440 0.3440 0.3440 0.3440 0.3440 0.3440 0.3440"/><feFuncG type="table" tableValues="0.6401 0.6401 0.6401 0.5325 0.5325 0.5325 0.4248 0.4248 0.4248 0.3709 0.3709 0.3709 0.3709 0.3709 0.3709 0.3709 0.3709 0.3709 0.3709 0.3709 0.3709 0.3709 0.3709 0.3709 0.3709 0.3709 0.3709 0.3709 0.3709 0.3709 0.3440 0.3440 0.3440 0.3440 0.3440 0.3440 0.3440 0.3440 0.3440 0.3440 0.3440 0.3440 0.3440 0.3440 0.3440 0.3440 0.3440 0.3440 0.3440 0.3440 0.3440 0.3440 0.3440 0.3440 0.3440 0.3440 0.3440 0.3440 0.3440 0.3440 0.3440 0.3440 0.3440 0.3440 0.3440 0.3440 0.3440 0.3440 0.3440 0.3440 0.3440 0.3440 0.3440 0.3440 0.3440 0.3440 0.3440 0.3440 0.3440 0.3440 0.3440 0.3440 0.3440 0.3440 0.3440 0.3440 0.3440 0.3440 0.3440 0.3440 0.3440 0.3440 0.3440 0.3440 0.3440 0.3440 0.3440 0.3440 0.3440 0.3440 0.3440"/><feFuncB type="table" tableValues="0.6401 0.6401 0.6401 0.5325 0.5325 0.5325 0.4248 0.4248 0.4248 0.3709 0.3709 0.3709 0.3709 0.3709 0.3709 0.3709 0.3709 0.3709 0.3709 0.3709 0.3709 0.3709 0.3709 0.3709 0.3709 0.3709 0.3709 0.3709 0.3709 0.3709 0.3440 0.3440 0.3440 0.3440 0.3440 0.3440 0.3440 0.3440 0.3440 0.3440 0.3440 0.3440 0.3440 0.3440 0.3440 0.3440 0.3440 0.3440 0.3440 0.3440 0.3440 0.3440 0.3440 0.3440 0.3440 0.3440 0.3440 0.3440 0.3440 0.3440 0.3440 0.3440 0.3440 0.3440 0.3440 0.3440 0.3440 0.3440 0.3440 0.3440 0.3440 0.3440 0.3440 0.3440 0.3440 0.3440 0.3440 0.3440 0.3440 0.3440 0.3440 0.3440 0.3440 0.3440 0.3440 0.3440 0.3440 0.3440 0.3440 0.3440 0.3440 0.3440 0.3440 0.3440 0.3440 0.3440 0.3440 0.3440 0.3440 0.3440 0.3440"/></feComponentTransfer><feGaussianBlur stdDeviation="0.4"/></filter>
<filter id="gapn7" x="523.1" y="2182.2" width="421.6" height="360.8" filterUnits="userSpaceOnUse" color-interpolation-filters="sRGB"><feTurbulence type="fractalNoise" baseFrequency="0.07" numOctaves="2" seed="68" result="n"/><feColorMatrix in="n" type="matrix" values="0 0 0 0 1  0 0 0 0 1  0 0 0 0 1  0.1569 0 0 0 -0.0784" result="c"/><feComposite in="c" in2="SourceGraphic" operator="in"/></filter>
<filter id="edge7" x="493.1" y="2152.2" width="481.6" height="420.8" filterUnits="userSpaceOnUse"><feTurbulence type="fractalNoise" baseFrequency="0.06" numOctaves="3" seed="98" result="t"/><feDisplacementMap in="SourceGraphic" in2="t" scale="12" xChannelSelector="R" yChannelSelector="G"/></filter>
<linearGradient id="gapg7" x1="0" y1="2182.2" x2="0" y2="2543" gradientUnits="userSpaceOnUse"><stop offset="0" stop-color="rgb(104,104,104)"/><stop offset="1" stop-color="rgb(98,98,98)"/></linearGradient>
<radialGradient id="vig7" cx="0.5" cy="0.5" r="0.72"><stop offset="0.45" stop-color="#000" stop-opacity="0"/><stop offset="1" stop-color="#000" stop-opacity="0.12"/></radialGradient>
<linearGradient id="hv7" x1="0" y1="0" x2="1" y2="0"><stop offset="0" stop-color="#000" stop-opacity="0.0"/><stop offset="0.3" stop-color="#000" stop-opacity="0"/><stop offset="0.45" stop-color="#000" stop-opacity="0"/><stop offset="1" stop-color="#000" stop-opacity="0.3"/></linearGradient>
</defs>
<rect x="0" y="0" width="1802" height="2543" fill="#fff"/>
<g clip-path="url(#clip0)">
<rect x="89.5" y="857.3" width="421.3" height="359.0" filter="url(#tex0)"/>
<g filter="url(#edge0)"><polygon points="245.3,857.3 255,930 267,1012.6 276,1100 286,1216.3 367.2,1216.3 352,1100 344,1012.6 333,930 329.3,857.3" fill="url(#gapg0)"/><polygon points="245.3,857.3 255,930 267,1012.6 276,1100 286,1216.3 367.2,1216.3 352,1100 344,1012.6 333,930 329.3,857.3" fill="#fff" filter="url(#gapn0)"/></g>
<rect x="89.5" y="857.3" width="421.3" height="359.0" fill="url(#vig0)"/>
</g>
<rect x="90.25" y="858.05" width="419.8" height="357.5" fill="none" stroke="#000" stroke-width="1.5"/>
<g clip-path="url(#clip1)">
<rect x="521" y="857.3" width="421.5" height="359.0" filter="url(#tex1)"/>
<g filter="url(#edge1)"><polygon points="713,880 697,900 682,930 674,958.4 704.7,1039.6 731.7,1121 753.4,1216.3 815.7,1216.3 799.5,1121 775,1039.6 752,958.4 744,930 731,900 717,880" fill="url(#gapg1)"/><polygon points="713,880 697,900 682,930 674,958.4 704.7,1039.6 731.7,1121 753.4,1216.3 815.7,1216.3 799.5,1121 775,1039.6 752,958.4 744,930 731,900 717,880" fill="#fff" filter="url(#gapn1)"/></g>
<rect x="521" y="857.3" width="421.5" height="359.0" fill="url(#vig1)"/>
<rect x="521" y="857.3" width="421.5" height="359.0" fill="url(#hv1)"/>
</g>
<rect x="521.75" y="858.05" width="420.0" height="357.5" fill="none" stroke="#000" stroke-width="1.5"/>
<g clip-path="url(#clip2)">
<rect x="89.5" y="1227.2" width="421.3" height="359.0" filter="url(#tex2)"/>
<g filter="url(#edge2)"><polygon points="264,1227.2 262,1280 258,1340 250,1400 252,1470 253,1530 254,1586.2 358,1586.2 356,1530 348,1470 345,1400 342,1340 346,1280 347,1227.2" fill="url(#gapg2)"/><polygon points="264,1227.2 262,1280 258,1340 250,1400 252,1470 253,1530 254,1586.2 358,1586.2 356,1530 348,1470 345,1400 342,1340 346,1280 347,1227.2" fill="#fff" filter="url(#gapn2)"/></g>
<rect x="89.5" y="1227.2" width="421.3" height="359.0" fill="url(#vig2)"/>
<rect x="89.5" y="1227.2" width="421.3" height="359.0" fill="url(#hv2)"/>
</g>
<g clip-path="url(#clip3)">
<rect x="521" y="1227.2" width="421.5" height="359.0" filter="url(#tex3)"/>
<g filter="url(#edge3)"><polygon points="677.6,1227.2 685,1300 699,1416.8 712,1500 726,1586.2 759,1586.2 752,1500 745,1416.8 748,1300 748,1227.2" fill="url(#gapg3)"/><polygon points="677.6,1227.2 685,1300 699,1416.8 712,1500 726,1586.2 759,1586.2 752,1500 745,1416.8 748,1300 748,1227.2" fill="#fff" filter="url(#gapn3)"/></g>
<rect x="521" y="1227.2" width="421.5" height="359.0" fill="url(#vig3)"/>
<rect x="521" y="1227.2" width="421.5" height="359.0" fill="url(#hv3)"/>
</g>
<g clip-path="url(#clip4)">
<rect x="89.5" y="1814.1" width="421.3" height="360.6" filter="url(#tex4)"/>
<polygon points="221,1814.1 226.3,1935.5 231.7,2043.8 240,2120 248,2174.7 340,2174.7 337,2120 332,2043.8 322.5,1935.5 318,1814.1" fill="none" stroke="#fff" stroke-width="60" stroke-opacity="0.1" style="filter:blur(14px)"/>
<g filter="url(#edge4)"><polygon points="221,1814.1 226.3,1935.5 231.7,2043.8 240,2120 248,2174.7 340,2174.7 337,2120 332,2043.8 322.5,1935.5 318,1814.1" fill="url(#gapg4)"/><polygon points="221,1814.1 226.3,1935.5 231.7,2043.8 240,2120 248,2174.7 340,2174.7 337,2120 332,2043.8 322.5,1935.5 318,1814.1" fill="#fff" filter="url(#gapn4)"/></g>
<rect x="89.5" y="1814.1" width="421.3" height="360.6" fill="url(#vig4)"/>
<rect x="89.5" y="1814.1" width="421.3" height="360.6" fill="url(#hv4)"/>
</g>
<g clip-path="url(#clip5)">
<rect x="523.1" y="1814.1" width="421.6" height="351.7" filter="url(#tex5)"/>
<g filter="url(#edge5)"><polygon points="715.5,1814.1 712,1900 699,1976.6 702,2085 710,2165.8 759,2165.8 759,2085 769.7,1976.6 770,1900 775,1814.1" fill="url(#gapg5)"/><polygon points="715.5,1814.1 712,1900 699,1976.6 702,2085 710,2165.8 759,2165.8 759,2085 769.7,1976.6 770,1900 775,1814.1" fill="#fff" filter="url(#gapn5)"/></g>
<rect x="523.1" y="1814.1" width="421.6" height="351.7" fill="url(#vig5)"/>
<rect x="523.1" y="1814.1" width="421.6" height="351.7" fill="url(#hv5)"/>
</g>
<g clip-path="url(#clip6)">
<rect x="89.5" y="2182.2" width="421.3" height="360.8" filter="url(#tex6)"/>
<polygon points="264,2182.2 269.6,2224 253.4,2332.6 223.6,2441 221,2543 340,2543 323.8,2441 332,2332.6 342.8,2224 351,2182.2" fill="none" stroke="#fff" stroke-width="60" stroke-opacity="0.1" style="filter:blur(14px)"/>
<g filter="url(#edge6)"><polygon points="264,2182.2 269.6,2224 253.4,2332.6 223.6,2441 221,2543 340,2543 323.8,2441 332,2332.6 342.8,2224 351,2182.2" fill="url(#gapg6)"/><polygon points="264,2182.2 269.6,2224 253.4,2332.6 223.6,2441 221,2543 340,2543 323.8,2441 332,2332.6 342.8,2224 351,2182.2" fill="#fff" filter="url(#gapn6)"/></g>
<rect x="89.5" y="2182.2" width="421.3" height="360.8" fill="url(#vig6)"/>
<rect x="89.5" y="2182.2" width="421.3" height="360.8" fill="url(#hv6)"/>
</g>
<g clip-path="url(#clip7)">
<rect x="523.1" y="2182.2" width="421.6" height="360.8" filter="url(#tex7)"/>
<g filter="url(#edge7)"><polygon points="683,2182.2 699,2332.6 704.6,2543 753.4,2543 745,2332.6 731.7,2182.2" fill="url(#gapg7)"/><polygon points="683,2182.2 699,2332.6 704.6,2543 753.4,2543 745,2332.6 731.7,2182.2" fill="#fff" filter="url(#gapn7)"/></g>
<rect x="523.1" y="2182.2" width="421.6" height="360.8" fill="url(#vig7)"/>
<rect x="523.1" y="2182.2" width="421.6" height="360.8" fill="url(#hv7)"/>
</g>
<line x1="498" y1="1160" x2="455" y2="1216" stroke="#000" stroke-width="9" stroke-opacity="0.45" style="filter:blur(3px)" clip-path="url(#clip0)"/>
<rect x="524" y="2165.8" width="420" height="4.8" fill="#9c9c9c"/>
<text x="5" y="40" font-size="55.5" text-anchor="start" >A</text>
<text x="1253.4" y="39.7" font-size="55.5" text-anchor="start" >B</text>
<text x="0.5" y="745" font-size="55.5" text-anchor="start" >C</text>
<text x="6.7" y="1669" font-size="55.5" text-anchor="start" >D</text>
<line x1="218.5" y1="73.25" x2="218.5" y2="568.75" stroke="#000" stroke-width="2.5" />
<line x1="207" y1="567.5" x2="893.75" y2="567.5" stroke="#000" stroke-width="2.5" />
<line x1="207.5" y1="567.5" x2="218.5" y2="567.5" stroke="#000" stroke-width="2.5" />
<line x1="207.5" y1="469.0" x2="218.5" y2="469.0" stroke="#000" stroke-width="2.5" />
<line x1="207.5" y1="370.5" x2="218.5" y2="370.5" stroke="#000" stroke-width="2.5" />
<line x1="207.5" y1="272.0" x2="218.5" y2="272.0" stroke="#000" stroke-width="2.5" />
<line x1="207.5" y1="173.5" x2="218.5" y2="173.5" stroke="#000" stroke-width="2.5" />
<line x1="207.5" y1="75.0" x2="218.5" y2="75.0" stroke="#000" stroke-width="2.5" />
<line x1="218.5" y1="567.5" x2="218.5" y2="580" stroke="#000" stroke-width="2.5" />
<line x1="386.8" y1="567.5" x2="386.8" y2="580" stroke="#000" stroke-width="2.5" />
<line x1="555.1" y1="567.5" x2="555.1" y2="580" stroke="#000" stroke-width="2.5" />
<line x1="723.4000000000001" y1="567.5" x2="723.4000000000001" y2="580" stroke="#000" stroke-width="2.5" />
<line x1="891.7" y1="567.5" x2="891.7" y2="580" stroke="#000" stroke-width="2.5" />
<text transform="translate(179.94,579.20) scale(0.93,1)" font-size="32.0">0</text>
<text transform="translate(119.91,480.50) scale(0.93,1)" font-size="32.0">5×10</text>
<text transform="translate(189.85,470.40) scale(0.93,1)" font-size="32.0">5</text>
<text transform="translate(123.04,383.50) scale(0.93,1)" font-size="32.0">1×10</text>
<text transform="translate(189.85,373.80) scale(0.93,1)" font-size="32.0">6</text>
<text transform="translate(95.74,302.40) scale(0.93,1)" font-size="32.0">1.5×10</text>
<text transform="translate(189.85,274.70) scale(0.93,1)" font-size="32.0">6</text>
<text transform="translate(120.51,186.40) scale(0.93,1)" font-size="32.0">2×10</text>
<text transform="translate(189.85,175.80) scale(0.93,1)" font-size="32.0">6</text>
<text transform="translate(96.51,90.80) scale(0.93,1)" font-size="32.0">2.5×10</text>
<text transform="translate(189.85,77.90) scale(0.93,1)" font-size="32.0">6</text>
<text transform="translate(217.8,619.7) scale(0.93,1)" font-size="32" text-anchor="middle">0</text>
<text transform="translate(383.4,619.7) scale(0.93,1)" font-size="32" text-anchor="middle">24</text>
<text transform="translate(551.6,619.7) scale(0.93,1)" font-size="32" text-anchor="middle">48</text>
<text transform="translate(721.3,619.7) scale(0.93,1)" font-size="32" text-anchor="middle">72</text>
<text transform="translate(888.8,619.7) scale(0.93,1)" font-size="32" text-anchor="middle">96</text>
<text x="555.5" y="654.2" font-size="27.1" text-anchor="middle" >Time (h)</text>
<g transform="translate(76.9,518.7) rotate(-90)">
<text x="-3.8" y="0" font-size="30.7">Cell number x 10</text>
<text x="234.5" y="-16.8" font-size="28">5</text>
<text x="250.5" y="0" font-size="31.2">x ml</text>
<text x="316" y="-17" font-size="30">-1</text>
</g>
<line x1="555.1" y1="521" x2="555.1" y2="547" stroke="#a6a6a6" stroke-width="2.2" />
<line x1="550.4" y1="521" x2="559.8000000000001" y2="521" stroke="#a6a6a6" stroke-width="2.2" />
<line x1="550.4" y1="547" x2="559.8000000000001" y2="547" stroke="#a6a6a6" stroke-width="2.2" />
<line x1="723.4000000000001" y1="467.4" x2="723.4000000000001" y2="542.6" stroke="#a6a6a6" stroke-width="2.2" />
<line x1="718.7" y1="467.4" x2="728.1000000000001" y2="467.4" stroke="#a6a6a6" stroke-width="2.2" />
<line x1="718.7" y1="542.6" x2="728.1000000000001" y2="542.6" stroke="#a6a6a6" stroke-width="2.2" />
<line x1="891.7" y1="395.3" x2="891.7" y2="529.8" stroke="#a6a6a6" stroke-width="2.2" />
<line x1="887.0" y1="395.3" x2="896.4000000000001" y2="395.3" stroke="#a6a6a6" stroke-width="2.2" />
<line x1="887.0" y1="529.8" x2="896.4000000000001" y2="529.8" stroke="#a6a6a6" stroke-width="2.2" />
<line x1="386.8" y1="530" x2="386.8" y2="544" stroke="#0000bf" stroke-width="2.2" />
<line x1="382.1" y1="530" x2="391.5" y2="530" stroke="#0000bf" stroke-width="2.2" />
<line x1="382.1" y1="544" x2="391.5" y2="544" stroke="#0000bf" stroke-width="2.2" />
<line x1="555.1" y1="503" x2="555.1" y2="528" stroke="#0000bf" stroke-width="2.2" />
<line x1="550.4" y1="503" x2="559.8000000000001" y2="503" stroke="#0000bf" stroke-width="2.2" />
<line x1="550.4" y1="528" x2="559.8000000000001" y2="528" stroke="#0000bf" stroke-width="2.2" />
<line x1="723.4000000000001" y1="441.6" x2="723.4000000000001" y2="518" stroke="#0000bf" stroke-width="2.2" />
<line x1="718.7" y1="441.6" x2="728.1000000000001" y2="441.6" stroke="#0000bf" stroke-width="2.2" />
<line x1="718.7" y1="518" x2="728.1000000000001" y2="518" stroke="#0000bf" stroke-width="2.2" />
<line x1="891.7" y1="256" x2="891.7" y2="500" stroke="#0000bf" stroke-width="2.2" />
<line x1="887.0" y1="256" x2="896.4000000000001" y2="256" stroke="#0000bf" stroke-width="2.2" />
<line x1="887.0" y1="500" x2="896.4000000000001" y2="500" stroke="#0000bf" stroke-width="2.2" />
<line x1="386.8" y1="519" x2="386.8" y2="537" stroke="#55a0fe" stroke-width="2.2" />
<line x1="382.1" y1="519" x2="391.5" y2="519" stroke="#55a0fe" stroke-width="2.2" />
<line x1="382.1" y1="537" x2="391.5" y2="537" stroke="#55a0fe" stroke-width="2.2" />
<line x1="555.1" y1="501.7" x2="555.1" y2="527" stroke="#55a0fe" stroke-width="2.2" />
<line x1="550.4" y1="501.7" x2="559.8000000000001" y2="501.7" stroke="#55a0fe" stroke-width="2.2" />
<line x1="550.4" y1="527" x2="559.8000000000001" y2="527" stroke="#55a0fe" stroke-width="2.2" />
<line x1="723.4000000000001" y1="452" x2="723.4000000000001" y2="520" stroke="#55a0fe" stroke-width="2.2" />
<line x1="718.7" y1="452" x2="728.1000000000001" y2="452" stroke="#55a0fe" stroke-width="2.2" />
<line x1="718.7" y1="520" x2="728.1000000000001" y2="520" stroke="#55a0fe" stroke-width="2.2" />
<line x1="891.7" y1="173.7" x2="891.7" y2="473.1" stroke="#55a0fe" stroke-width="2.2" />
<line x1="887.0" y1="173.7" x2="896.4000000000001" y2="173.7" stroke="#55a0fe" stroke-width="2.2" />
<line x1="887.0" y1="473.1" x2="896.4000000000001" y2="473.1" stroke="#55a0fe" stroke-width="2.2" />
<line x1="386.8" y1="526.8" x2="386.8" y2="542.4" stroke="#000000" stroke-width="2.2" />
<line x1="382.1" y1="526.8" x2="391.5" y2="526.8" stroke="#000000" stroke-width="2.2" />
<line x1="382.1" y1="542.4" x2="391.5" y2="542.4" stroke="#000000" stroke-width="2.2" />
<line x1="555.1" y1="454.7" x2="555.1" y2="530.5" stroke="#000000" stroke-width="2.2" />
<line x1="550.4" y1="454.7" x2="559.8000000000001" y2="454.7" stroke="#000000" stroke-width="2.2" />
<line x1="550.4" y1="530.5" x2="559.8000000000001" y2="530.5" stroke="#000000" stroke-width="2.2" />
<line x1="723.4000000000001" y1="352.3" x2="723.4000000000001" y2="523.6" stroke="#000000" stroke-width="2.2" />
<line x1="718.7" y1="352.3" x2="728.1000000000001" y2="352.3" stroke="#000000" stroke-width="2.2" />
<line x1="718.7" y1="523.6" x2="728.1000000000001" y2="523.6" stroke="#000000" stroke-width="2.2" />
<line x1="891.7" y1="140.4" x2="891.7" y2="466.7" stroke="#000000" stroke-width="2.2" />
<line x1="887.0" y1="140.4" x2="896.4000000000001" y2="140.4" stroke="#000000" stroke-width="2.2" />
<line x1="887.0" y1="466.7" x2="896.4000000000001" y2="466.7" stroke="#000000" stroke-width="2.2" />
<polyline points="218.5,559.6 386.8,553.2 555.1,534.2 723.4000000000001,504.4 891.7,462.5" fill="none" stroke="#666666" stroke-width="5" stroke-linejoin="round"/>
<circle cx="218.5" cy="559.6" r="5.3" fill="#a6a6a6"/>
<circle cx="386.8" cy="553.2" r="5.3" fill="#a6a6a6"/>
<circle cx="555.1" cy="534.2" r="5.3" fill="#a6a6a6"/>
<circle cx="723.4000000000001" cy="504.4" r="5.3" fill="#a6a6a6"/>
<circle cx="891.7" cy="462.5" r="5.3" fill="#a6a6a6"/>
<polyline points="218.5,559.6 386.8,536.7 555.1,517 723.4000000000001,480.5 891.7,377.9" fill="none" stroke="#0000bf" stroke-width="5" stroke-linejoin="round"/>
<circle cx="218.5" cy="559.6" r="5.3" fill="#0000bf"/>
<circle cx="386.8" cy="536.7" r="5.3" fill="#0000bf"/>
<circle cx="555.1" cy="517" r="5.3" fill="#0000bf"/>
<circle cx="723.4000000000001" cy="480.5" r="5.3" fill="#0000bf"/>
<circle cx="891.7" cy="377.9" r="5.3" fill="#0000bf"/>
<polyline points="218.5,559.6 386.8,528 555.1,514.5 723.4000000000001,480.5 891.7,323.7" fill="none" stroke="#55a0fe" stroke-width="5" stroke-linejoin="round"/>
<circle cx="218.5" cy="559.6" r="5.3" fill="#55a0fe"/>
<circle cx="386.8" cy="528" r="5.3" fill="#55a0fe"/>
<circle cx="555.1" cy="514.5" r="5.3" fill="#55a0fe"/>
<circle cx="723.4000000000001" cy="480.5" r="5.3" fill="#55a0fe"/>
<circle cx="891.7" cy="323.7" r="5.3" fill="#55a0fe"/>
<polyline points="218.5,559.6 386.8,534.2 555.1,492.4 723.4000000000001,437.9 891.7,303.5" fill="none" stroke="#000000" stroke-width="5" stroke-linejoin="round"/>
<circle cx="218.5" cy="559.6" r="5.3" fill="#000000"/>
<circle cx="386.8" cy="534.2" r="5.3" fill="#000000"/>
<circle cx="555.1" cy="492.4" r="5.3" fill="#000000"/>
<circle cx="723.4000000000001" cy="437.9" r="5.3" fill="#000000"/>
<circle cx="891.7" cy="303.5" r="5.3" fill="#000000"/>
<line x1="918.2" y1="46.8" x2="965.7" y2="46.8" stroke="#000000" stroke-width="5.2" />
<circle cx="941.9" cy="46.8" r="5.3" fill="#000000"/>
<text x="991.3" y="59.1" font-size="30.6" text-anchor="start" >CTR normoxia</text>
<line x1="918.2" y1="106.4" x2="965.7" y2="106.4" stroke="#55a0fe" stroke-width="5.2" />
<circle cx="941.9" cy="106.4" r="5.3" fill="#55a0fe"/>
<text x="991.3" y="118.4" font-size="30.6" text-anchor="start" >PH1 normoxia</text>
<line x1="918.2" y1="166.3" x2="965.7" y2="166.3" stroke="#a0a0a2" stroke-width="5.2" />
<circle cx="941.9" cy="166.3" r="5.3" fill="#a0a0a2" stroke="#7a7a7a" stroke-width="1"/>
<text x="991.3" y="177.8" font-size="30.6" text-anchor="start" >CTR hypoxia</text>
<line x1="918.2" y1="225.6" x2="965.7" y2="225.6" stroke="#0000bf" stroke-width="5.2" />
<circle cx="941.9" cy="225.6" r="5.3" fill="#0000bf"/>
<text x="991.3" y="237.0" font-size="30.6" text-anchor="start" >PH1 hypoxia</text>
<line x1="1334" y1="191.05" x2="1334" y2="557.85" stroke="#000" stroke-width="2.5" />
<line x1="1316" y1="556.6" x2="1777.5" y2="556.6" stroke="#000" stroke-width="2.5" />
<line x1="1316" y1="556.6" x2="1334" y2="556.6" stroke="#000" stroke-width="2.5" />
<line x1="1316" y1="435.20000000000005" x2="1334" y2="435.20000000000005" stroke="#000" stroke-width="2.5" />
<line x1="1316" y1="313.8" x2="1334" y2="313.8" stroke="#000" stroke-width="2.5" />
<line x1="1316" y1="192.39999999999998" x2="1334" y2="192.39999999999998" stroke="#000" stroke-width="2.5" />
<text transform="translate(1272.3,565.5) scale(0.8,1)" font-size="33">0</text>
<text transform="translate(1307,443.2) scale(0.8,1)" font-size="33" text-anchor="end">0.5</text>
<text transform="translate(1307,322.2) scale(0.8,1)" font-size="33" text-anchor="end">1.0</text>
<text transform="translate(1307,199.4) scale(0.8,1)" font-size="33" text-anchor="end">1.5</text>
<line x1="1392.5" y1="301.8" x2="1392.5" y2="308.3" stroke="#000000" stroke-width="2.5" />
<line x1="1377.8" y1="301.8" x2="1407.2" y2="301.8" stroke="#000000" stroke-width="2.5" />
<rect x="1363" y="308.3" width="59" height="248.3" fill="#000000" />
<line x1="1481.6" y1="269.2" x2="1481.6" y2="278.4" stroke="#55a0fe" stroke-width="2.5" />
<line x1="1466.8999999999999" y1="269.2" x2="1496.3" y2="269.2" stroke="#55a0fe" stroke-width="2.5" />
<rect x="1451.9" y="278.4" width="59.399999999999864" height="278.20000000000005" fill="#55a0fe" />
<line x1="1629.4" y1="347.9" x2="1629.4" y2="356.7" stroke="#5f5f5f" stroke-width="2.5" />
<line x1="1614.7" y1="347.9" x2="1644.1000000000001" y2="347.9" stroke="#5f5f5f" stroke-width="2.5" />
<rect x="1600.1" y="356.7" width="58.600000000000136" height="199.90000000000003" fill="#5f5f5f" />
<line x1="1718.1" y1="244.0" x2="1718.1" y2="253.9" stroke="#0000bf" stroke-width="2.5" />
<line x1="1703.3999999999999" y1="244.0" x2="1732.8" y2="244.0" stroke="#0000bf" stroke-width="2.5" />
<rect x="1688.6" y="253.9" width="59.0" height="302.70000000000005" fill="#0000bf" />
<line x1="1334" y1="191.05" x2="1334" y2="557.85" stroke="#000" stroke-width="2.5" />
<line x1="1316" y1="556.6" x2="1777.5" y2="556.6" stroke="#000" stroke-width="2.5" />
<line x1="1392.6" y1="556.6" x2="1392.6" y2="570" stroke="#000" stroke-width="2.5" />
<line x1="1481.4" y1="556.6" x2="1481.4" y2="570" stroke="#000" stroke-width="2.5" />
<line x1="1628.9" y1="556.6" x2="1628.9" y2="570" stroke="#000" stroke-width="2.5" />
<line x1="1717.3" y1="556.6" x2="1717.3" y2="570" stroke="#000" stroke-width="2.5" />
<text x="1373.75" y="598.7" font-size="31" text-anchor="start" >CTR</text>
<text x="1458.2" y="598.7" font-size="31" text-anchor="start" >PH1</text>
<text x="1605.45" y="598.7" font-size="31" text-anchor="start" >CTR</text>
<text x="1690.7" y="598.7" font-size="31" text-anchor="start" >PH1</text>
<line x1="1367.7" y1="619.8" x2="1539.2" y2="619.8" stroke="#000" stroke-width="2.5" />
<line x1="1600.5" y1="619.8" x2="1771.7" y2="619.8" stroke="#000" stroke-width="2.5" />
<text x="1384.3" y="653.1" font-size="31" text-anchor="start" >Normoxia</text>
<text x="1629.5" y="653.1" font-size="31" text-anchor="start" >Hypoxia</text>
<polyline points="1392.6,283.4 1392.6,149.4 1629.3,149.4 1629.3,178.1" fill="none" stroke="#000" stroke-width="2.5"/>
<polyline points="1481.4,245.9 1481.4,212.6 1629.3,212.6 1629.3,289.2" fill="none" stroke="#000" stroke-width="2.5"/>
<text transform="translate(1506.4,145.3) scale(1,0.76)" font-size="33" text-anchor="middle" letter-spacing="1">**</text>
<text transform="translate(1553.6,209.2) scale(1,0.76)" font-size="33" text-anchor="middle" letter-spacing="1.3">****</text>
<text transform="translate(1218.5,346.5) rotate(-90)" font-size="30.7" text-anchor="middle">Viable cells</text>
<text transform="translate(1250.5,351.3) rotate(-90)" font-size="26.2" text-anchor="middle" textLength="240" lengthAdjust="spacingAndGlyphs">(fold of control)</text>
<text x="413.6" y="780.8" font-size="29" textLength="179.2" lengthAdjust="spacingAndGlyphs">NORMOXIA</text>
<text x="304.4" y="821.8" font-size="30.5" text-anchor="middle" >0</text>
<text x="646.25" y="820.2" font-size="31" text-anchor="start" >6h post hypoxia</text>
<text x="4.8" y="838" font-size="35" text-anchor="start" >(i)</text>
<text x="1178.2" y="838.2" font-size="35" text-anchor="start" >(ii)</text>
<text x="-1.06" y="1061.9" font-size="31.2" text-anchor="start" >CTR</text>
<text x="-2.5" y="1430.8" font-size="31.2" text-anchor="start" >PH1</text>
<text x="430.3" y="1710.9" font-size="29.3" textLength="146.7" lengthAdjust="spacingAndGlyphs">HYPOXIA</text>
<text x="304.7" y="1779.8" font-size="30.5" text-anchor="middle" >0</text>
<text x="646.95" y="1779.8" font-size="31" text-anchor="start" >6h post hypoxia</text>
<text x="3.8" y="1796" font-size="35" text-anchor="start" >(i)</text>
<text x="-1.06" y="2019.7" font-size="31.2" text-anchor="start" >CTR</text>
<text x="-2.5" y="2388.8" font-size="31.2" text-anchor="start" >PH1</text>
<line x1="1326.05" y1="1116.471" x2="1326.05" y2="1129.8" stroke="#000000" stroke-width="2.5" />
<line x1="1311.05" y1="1116.471" x2="1341.05" y2="1116.471" stroke="#000000" stroke-width="2.5" />
<rect x="1296.5" y="1129.8" width="59.09999999999991" height="296.20000000000005" fill="#000000" />
<line x1="1414.8" y1="1100.18" x2="1414.8" y2="1129.8" stroke="#55a0fe" stroke-width="2.5" />
<line x1="1399.8" y1="1100.18" x2="1429.8" y2="1100.18" stroke="#55a0fe" stroke-width="2.5" />
<rect x="1385" y="1129.8" width="59.59999999999991" height="296.20000000000005" fill="#55a0fe" />
<line x1="1562.85" y1="1269.3102" x2="1562.85" y2="1291.8214" stroke="#000000" stroke-width="2.5" />
<line x1="1547.85" y1="1269.3102" x2="1577.85" y2="1269.3102" stroke="#000000" stroke-width="2.5" />
<rect x="1533.5" y="1291.8214" width="58.700000000000045" height="134.17859999999996" fill="#000000" />
<line x1="1651.25" y1="1280.5658" x2="1651.25" y2="1297.7454" stroke="#55a0fe" stroke-width="2.5" />
<line x1="1636.25" y1="1280.5658" x2="1666.25" y2="1280.5658" stroke="#55a0fe" stroke-width="2.5" />
<rect x="1621.5" y="1297.7454" width="59.5" height="128.25459999999998" fill="#55a0fe" />
<line x1="1266.7" y1="980.45" x2="1266.7" y2="1427.25" stroke="#000" stroke-width="2.5" />
<line x1="1250.3" y1="1426.0" x2="1710.4" y2="1426.0" stroke="#000" stroke-width="2.5" />
<line x1="1250.3" y1="1426.0" x2="1266.7" y2="1426.0" stroke="#000" stroke-width="2.5" />
<line x1="1250.3" y1="1277.9" x2="1266.7" y2="1277.9" stroke="#000" stroke-width="2.5" />
<line x1="1250.3" y1="1129.8" x2="1266.7" y2="1129.8" stroke="#000" stroke-width="2.5" />
<line x1="1250.3" y1="981.7" x2="1266.7" y2="981.7" stroke="#000" stroke-width="2.5" />
<line x1="1370.3" y1="1426.0" x2="1370.3" y2="1443.0" stroke="#000" stroke-width="2.5" />
<line x1="1607.3" y1="1426.0" x2="1607.3" y2="1443.0" stroke="#000" stroke-width="2.5" />
<text x="1245.8" y="1438.5" font-size="33.5" text-anchor="end" >0</text>
<text x="1245.8" y="1290.4" font-size="33.5" text-anchor="end" >50</text>
<text x="1245.8" y="1142.3" font-size="33.5" text-anchor="end" >100</text>
<text x="1245.8" y="994.2" font-size="33.5" text-anchor="end" >150</text>
<text x="1369.9" y="1478.2" font-size="34" text-anchor="middle" >0</text>
<text x="1488.8999999999999" y="1478.2" font-size="34" text-anchor="start" >6h post-hypoxia</text>
<rect x="1663.7" y="965.8" width="47.6" height="23.4" fill="#000000" />
<rect x="1663.7" y="1025.6" width="47.6" height="23.6" fill="#55a0fe" />
<text x="1738" y="989.0" font-size="31" text-anchor="start" >CTR</text>
<text x="1737" y="1048.8" font-size="31" text-anchor="start" >PH1</text>
<text transform="translate(1123.6,1202.3) rotate(-90)" font-size="36.6" text-anchor="middle">% of area</text>
<text transform="translate(1167.8,1205.6) rotate(-90)" font-size="37.2" text-anchor="middle">(fold of control)</text>
<line x1="1326.05" y1="2122.9192" x2="1326.05" y2="2147.8" stroke="#5f5f5f" stroke-width="2.5" />
<line x1="1311.05" y1="2122.9192" x2="1341.05" y2="2122.9192" stroke="#5f5f5f" stroke-width="2.5" />
<rect x="1296.5" y="2147.8" width="59.09999999999991" height="296.1999999999998" fill="#5f5f5f" />
<line x1="1414.8" y1="2111.0712" x2="1414.8" y2="2147.8" stroke="#0000bf" stroke-width="2.5" />
<line x1="1399.8" y1="2111.0712" x2="1429.8" y2="2111.0712" stroke="#0000bf" stroke-width="2.5" />
<rect x="1385" y="2147.8" width="59.59999999999991" height="296.1999999999998" fill="#0000bf" />
<line x1="1562.85" y1="2250.8776" x2="1562.85" y2="2283.7558" stroke="#5f5f5f" stroke-width="2.5" />
<line x1="1547.85" y1="2250.8776" x2="1577.85" y2="2250.8776" stroke="#5f5f5f" stroke-width="2.5" />
<rect x="1533.5" y="2283.7558" width="58.700000000000045" height="160.2442000000001" fill="#5f5f5f" />
<line x1="1651.25" y1="2282.571" x2="1651.25" y2="2302.1202" stroke="#0000bf" stroke-width="2.5" />
<line x1="1636.25" y1="2282.571" x2="1666.25" y2="2282.571" stroke="#0000bf" stroke-width="2.5" />
<rect x="1621.5" y="2302.1202" width="59.5" height="141.87980000000016" fill="#0000bf" />
<line x1="1266.7" y1="1998.45" x2="1266.7" y2="2445.25" stroke="#000" stroke-width="2.5" />
<line x1="1250.3" y1="2444.0" x2="1710.4" y2="2444.0" stroke="#000" stroke-width="2.5" />
<line x1="1250.3" y1="2444.0" x2="1266.7" y2="2444.0" stroke="#000" stroke-width="2.5" />
<line x1="1250.3" y1="2295.9" x2="1266.7" y2="2295.9" stroke="#000" stroke-width="2.5" />
<line x1="1250.3" y1="2147.8" x2="1266.7" y2="2147.8" stroke="#000" stroke-width="2.5" />
<line x1="1250.3" y1="1999.7" x2="1266.7" y2="1999.7" stroke="#000" stroke-width="2.5" />
<line x1="1370.3" y1="2444.0" x2="1370.3" y2="2461.0" stroke="#000" stroke-width="2.5" />
<line x1="1607.3" y1="2444.0" x2="1607.3" y2="2461.0" stroke="#000" stroke-width="2.5" />
<text x="1245.8" y="2456.5" font-size="33.5" text-anchor="end" >0</text>
<text x="1245.8" y="2308.4" font-size="33.5" text-anchor="end" >50</text>
<text x="1245.8" y="2160.3" font-size="33.5" text-anchor="end" >100</text>
<text x="1245.8" y="2012.2" font-size="33.5" text-anchor="end" >150</text>
<text x="1369.9" y="2496.2" font-size="34" text-anchor="middle" >0</text>
<text x="1479.9999999999998" y="2496.2" font-size="34" text-anchor="start" >6h post-hypoxia</text>
<rect x="1663.7" y="1893.1" width="47.6" height="23.4" fill="#5f5f5f" />
<rect x="1663.7" y="1952.8999999999999" width="47.6" height="23.6" fill="#0000bf" />
<text x="1738" y="1911.1" font-size="31" text-anchor="start" >CTR</text>
<text x="1737" y="1970.8999999999999" font-size="31" text-anchor="start" >PH1</text>
<text transform="translate(1123.6,2220.3) rotate(-90)" font-size="36.6" text-anchor="middle">% of area</text>
<text transform="translate(1167.8,2223.6) rotate(-90)" font-size="37.2" text-anchor="middle">(fold of control)</text>
<polyline points="1320,2099.9 1320,2016.3 1662.4,2016.3 1662.4,2033.2" fill="none" stroke="#000" stroke-width="2.2"/>
<polyline points="1417,2090 1417,2077.6 1661,2077.6 1661,2139" fill="none" stroke="#000" stroke-width="2.2"/>
<text x="1473.2" y="2008.5" font-size="34" text-anchor="middle" >**</text>
<text x="1537.6" y="2069.6" font-size="34" text-anchor="middle" >**</text>
</svg>
</body></html>
